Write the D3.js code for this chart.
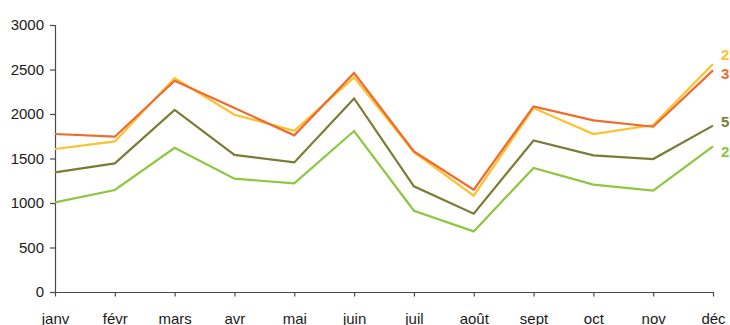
<!DOCTYPE html>
<html>
<head>
<meta charset="utf-8">
<script src="https://cdn.jsdelivr.net/npm/d3@7"></script>
<style>
  html, body { margin: 0; padding: 0; background: #fff; }
  svg { display: block; }
  text { font-family: "Liberation Sans", Arial, sans-serif; }
</style>
</head>
<body>
<svg id="chart" width="730" height="325"></svg>
<script>
// Months along the x axis
const months = ["janv", "févr", "mars", "avr", "mai", "juin", "juil", "août", "sept", "oct", "nov", "déc"];

// Monthly values for each series
const seriesGreen  = [1007, 1146, 1621, 1273, 1220, 1809,  913,  681, 1393, 1206, 1138, 1636];
const seriesOlive  = [1344, 1445, 2045, 1540, 1456, 2175, 1187,  880, 1703, 1535, 1494, 1869];
const seriesYellow = [1607, 1692, 2404, 1992, 1812, 2411, 1572, 1082, 2067, 1775, 1876, 2562];
const seriesOrange = [1775, 1745, 2374, 2067, 1760, 2460, 1580, 1149, 2085, 1928, 1857, 2490];

// End-of-line labels
const seriesLabels = ["2", "5", "2", "3"];

// Y axis ticks
const yTicks = [0, 500, 1000, 1500, 2000, 2500, 3000];

const series = [
  { values: seriesGreen,  label: seriesLabels[0], color: "#8DC63F", nudge: 5 },
  { values: seriesOlive,  label: seriesLabels[1], color: "#7B7B35", nudge: -4 },
  { values: seriesYellow, label: seriesLabels[2], color: "#FDC12E", nudge: -9 },
  { values: seriesOrange, label: seriesLabels[3], color: "#F06A2C", nudge: 3 }
];

const svg = d3.select("#chart");

const x = d3.scalePoint().domain(months).range([55, 713]);
const y = d3.scaleLinear().domain([0, 3000]).range([292, 25]);

const axisColor = "#4a4a4a";
const textColor = "#1a1a1a";

// Y axis
const yAxis = svg.append("g")
  .attr("transform", "translate(55,0)")
  .call(d3.axisLeft(y).tickValues(yTicks).tickSize(5).tickPadding(6).tickFormat(d3.format("d")));
yAxis.select(".domain").attr("stroke", axisColor).attr("stroke-width", 1.2);
yAxis.selectAll(".tick line").attr("stroke", axisColor).attr("stroke-width", 1.2);
yAxis.selectAll(".tick text")
  .attr("fill", textColor)
  .style("font-size", "15px");

// X axis
const xAxis = svg.append("g")
  .attr("transform", "translate(0,292)")
  .call(d3.axisBottom(x).tickSize(4.5).tickSizeOuter(0).tickPadding(0));
xAxis.select(".domain").attr("stroke", axisColor).attr("stroke-width", 1.2);
xAxis.selectAll(".tick line").attr("stroke", axisColor).attr("stroke-width", 1.2);
xAxis.selectAll(".tick text")
  .attr("fill", textColor)
  .attr("dy", null)
  .attr("y", 31.5)
  .style("font-size", "15px");

// Lines
const line = d3.line()
  .x((d, i) => x(months[i]))
  .y(d => y(d));

svg.append("g")
  .selectAll("path")
  .data(series)
  .join("path")
  .attr("d", d => line(d.values))
  .attr("fill", "none")
  .attr("stroke", d => d.color)
  .attr("stroke-width", 2.2)
  .attr("stroke-linejoin", "miter");

// Labels at the end of each line
svg.append("g")
  .selectAll("text")
  .data(series)
  .join("text")
  .attr("x", x(months[months.length - 1]) + 8)
  .attr("y", d => y(d.values[d.values.length - 1]) + d.nudge)
  .attr("dominant-baseline", "central")
  .attr("fill", d => d.color)
  .style("font-size", "15px")
  .style("font-weight", "bold")
  .text(d => d.label);
</script>
</body>
</html>
